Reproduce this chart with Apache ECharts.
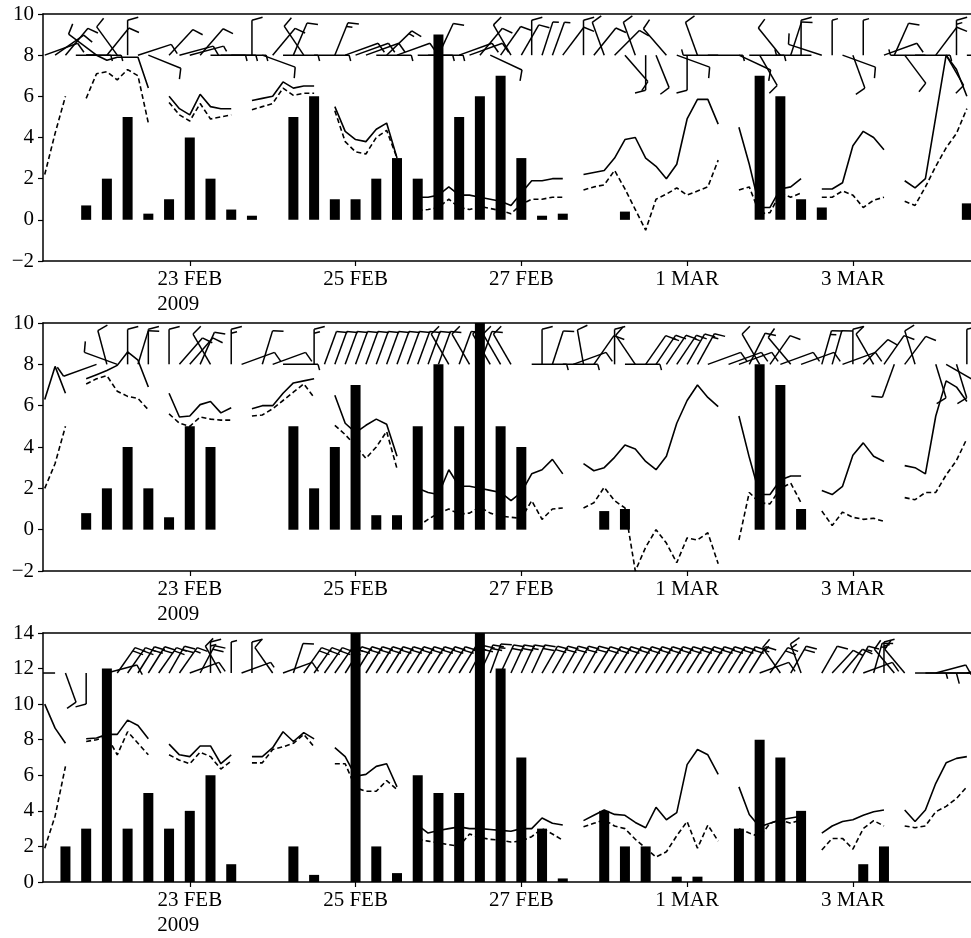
<!DOCTYPE html>
<html>
<head>
<meta charset="utf-8">
<script src="https://cdn.jsdelivr.net/npm/echarts@6/dist/echarts.min.js"></script>
<style>
  html, body { margin: 0; padding: 0; background: #fff; }
  #chart-container { width: 971px; height: 938px; }
</style>
</head>
<body>
<div id="chart-container"></div>
<script>
// time is in hours since 21 FEB 2009 00Z
const tickHours = [48, 96, 144, 192, 240];
const tickLabels = ["23 FEB", "25 FEB", "27 FEB", "1 MAR", "3 MAR"];
const yearLabel = "2009";

// 3-hourly times for the line series (06Z 21 FEB .. 09Z 4 MAR)
const lineHours = [];
for (let h = 6; h <= 273; h += 3) lineHours.push(h);

// panel 1
const p1BarHours = [18, 24, 30, 36, 42, 48, 54, 60, 66, 78, 84, 90, 96, 102, 108, 114, 120, 126, 132, 138, 144, 150, 156, 174, 213, 219, 225, 231, 273];
const p1Bars = [0.7, 2, 5, 0.3, 1, 4, 2, 0.5, 0.2, 5, 6, 1, 1, 2, 3, 2, 9, 5, 6, 7, 3, 0.2, 0.3, 0.4, 7, 6, 1, 0.6, 0.8];
const p1Solid = [
  null, null, null, null,
  8.0, 8.0, 7.75, 7.9, 7.9, 7.9, 6.4, null,
  6.0, 5.4, 5.1, 6.1, 5.5, 5.4, 5.4, null,
  5.8, 5.9, 6.0, 6.7, 6.4, 6.5, 6.5, null,
  5.5, 4.3, 3.9, 3.8, 4.4, 4.7, 3.0, null,
  1.1, 1.1, 1.2, 1.6, 1.2, 1.2, 1.1, 1.0, 0.9, 0.7, 1.3, 1.9, 1.9, 2.0, 2.0, null,
  2.2, 2.3, 2.4, 3.0, 3.9, 4.0, 3.0, 2.6, 2.0, 2.7, 4.9, 5.85, 5.85, 4.65, null,
  4.5, 2.7, 0.6, 0.6, 1.5, 1.6, 2.0, null,
  1.5, 1.5, 1.8, 3.6, 4.3, 4.0, 3.4, null,
  1.9, 1.55, 2.0, 5.0, 8.0, 7.3, 6.0
];
const p1Dashed = [
  2.2, 4.2, 6.0, null,
  5.9, 7.1, 7.2, 6.8, 7.3, 7.0, 4.7, null,
  5.7, 5.1, 4.8, 5.65, 4.9, 5.0, 5.1, null,
  5.35, 5.5, 5.65, 6.4, 6.05, 6.15, 6.15, null,
  5.3, 3.8, 3.3, 3.2, 4.0, 4.35, 3.0, null,
  0.45, 0.5, 0.6, 1.0, 0.6, 0.5, 0.65, 0.55, 0.45, 0.3, 0.75, 1.0, 1.0, 1.1, 1.1, null,
  1.45, 1.6, 1.7, 2.4, 1.5, 0.5, -0.5, 1.0, 1.25, 1.55, 1.2, 1.4, 1.6, 2.9, null,
  1.45, 1.6, 0.3, 0.35, 1.3, 1.1, 1.3, null,
  1.1, 1.1, 1.4, 1.2, 0.6, 0.95, 1.1, null,
  0.9, 0.7, 1.6, 2.6, 3.5, 4.2, 5.4
];
// wind: [hour, direction (deg, from), speed (m/s)]
const p1Wind = [
  [6, 70, 4], [9, 55, 4], [12, 40, 4], [15, 90, 2], [18, 90, 2], [21, 307, 4], [24, 39, 4], [27, 324, 4],
  [30, 0, 4], [33, 72, 4], [36, 112, 4], [42, 43, 4], [45, 75, 4], [48, 75, 2], [51, 41, 4], [54, 90, 2],
  [57, 90, 2], [60, 90, 2], [66, 0, 4], [69, 110, 4], [72, 40, 4], [75, 90, 2], [78, 23, 4], [81, 326, 4],
  [84, 90, 2], [90, 22, 6], [93, 70, 4], [96, 70, 4], [99, 70, 4], [102, 90, 2], [105, 46, 6], [108, 70, 4],
  [114, 90, 2], [117, 90, 2], [120, 25, 4], [126, 70, 4], [129, 70, 4], [132, 40, 4], [135, 115, 4],
  [138, 35, 4], [141, 330, 4], [144, 30, 4], [147, 0, 4], [150, 18, 2], [153, 20, 2], [156, 37, 4],
  [162, 0, 4], [165, 39, 4], [168, 340, 4], [171, 45, 4], [174, 139, 4], [177, 340, 4], [180, 180, 4],
  [183, 158, 4], [186, 319, 4], [189, 110, 4], [192, 180, 4], [195, 340, 4], [198, 90, 2], [201, 270, 2],
  [207, 115, 4], [210, 90, 2], [213, 150, 4], [219, 321, 4], [222, 18, 4], [225, 0, 4], [228, 270, 2],
  [231, 288, 4], [234, 0, 2], [237, 110, 4], [240, 160, 4], [243, 0, 2], [249, 70, 4], [252, 24, 4],
  [255, 143, 4], [258, 90, 2], [261, 270, 2], [264, 37, 4], [267, 150, 4], [270, 0, 6], [273, 90, 2]
];

// panel 2
const p2BarHours = [18, 24, 30, 36, 42, 48, 54, 78, 84, 90, 96, 102, 108, 114, 120, 126, 132, 138, 144, 168, 174, 213, 219, 225];
const p2Bars = [0.8, 2, 4, 2, 0.6, 5, 4, 5, 2, 4, 7, 0.7, 0.7, 5, 8, 5, 10, 5, 4, 0.9, 1, 8, 7, 1];
const p2Solid = [
  6.3, 7.9, 6.6, null,
  7.3, 7.5, 7.7, 7.95, 8.6, 8.2, 6.9, null,
  6.6, 5.45, 5.5, 6.05, 6.2, 5.65, 5.9, null,
  5.85, 6.0, 6.0, 6.6, 7.1, 7.2, 7.3, null,
  6.5, 5.15, 4.7, 5.05, 5.35, 5.1, 3.55, null,
  2.0, 1.8, 1.7, 2.9, 2.1, 2.1, 2.0, 1.9, 1.8, 1.4, 1.8, 2.7, 2.9, 3.4, 2.7, null,
  3.2, 2.85, 3.0, 3.5, 4.1, 3.9, 3.3, 2.9, 3.55, 5.15, 6.25, 7.0, 6.4, 5.95, null,
  5.5, 3.5, 1.7, 1.7, 2.4, 2.6, 2.6, null,
  1.9, 1.7, 2.1, 3.6, 4.2, 3.55, 3.3, null,
  3.1, 3.0, 2.7, 5.5, 7.2, 6.9, 6.2
];
const p2Dashed = [
  2.0, 3.2, 5.0, null,
  7.05, 7.3, 7.45, 6.7, 6.45, 6.35, 5.8, null,
  5.6, 5.15, 5.0, 5.45, 5.35, 5.3, 5.3, null,
  5.5, 5.55, 5.85, 6.25, 6.65, 7.05, 6.4, null,
  5.05, 4.6, 4.05, 3.45, 4.0, 4.75, 2.95, null,
  0.15, 0.5, 0.8, 1.0, 0.75, 0.8, 1.1, 0.8, 0.65, 0.6, 0.55, 1.4, 0.5, 1.0, 1.05, null,
  1.05, 1.3, 2.05, 1.4, 1.05, -2.0, -0.85, 0.0, -0.65, -1.6, -0.4, -0.5, -0.15, -1.65, null,
  -0.5, 1.8, 1.3, 1.25, 2.0, 2.25, 1.3, null,
  0.9, 0.2, 0.85, 0.6, 0.5, 0.55, 0.4, null,
  1.55, 1.45, 1.8, 1.8, 2.65, 3.35, 4.4
];
const p2Wind = [
  [21, 250, 4], [24, 345, 4], [27, 290, 4], [30, 0, 4], [33, 17, 4], [36, 0, 4], [42, 0, 4], [45, 41, 4],
  [48, 41, 4], [51, 24, 4], [54, 330, 4], [60, 0, 6], [63, 70, 4], [69, 17, 4], [72, 70, 4], [75, 90, 2],
  [84, 0, 6], [87, 20, 4], [90, 20, 4], [93, 20, 4], [96, 20, 4], [99, 20, 4], [102, 20, 4], [105, 20, 4],
  [108, 20, 4], [111, 20, 4], [114, 20, 4], [117, 20, 4], [120, 20, 4], [123, 330, 4], [126, 20, 4],
  [129, 330, 4], [132, 20, 4], [135, 330, 4], [138, 330, 4], [141, 330, 4], [147, 90, 2], [150, 0, 4],
  [153, 18, 4], [156, 90, 2], [159, 70, 4], [162, 350, 4], [165, 35, 4], [171, 0, 4], [174, 90, 2],
  [177, 326, 4], [180, 35, 4], [183, 34, 6], [186, 34, 4], [189, 34, 6], [192, 30, 4], [195, 29, 6],
  [198, 70, 4], [204, 70, 4], [207, 70, 4], [210, 27, 4], [213, 330, 4], [216, 35, 4], [219, 70, 4],
  [222, 320, 4], [225, 70, 4], [231, 16, 6], [234, 16, 4], [237, 70, 4], [240, 0, 4], [243, 45, 4],
  [246, 330, 4], [249, 35, 4], [252, 200, 4], [255, 37, 4], [258, 343, 4], [264, 163, 4], [267, 120, 4],
  [270, 163, 4], [273, 0, 4]
];

// panel 3
const p3BarHours = [12, 18, 24, 30, 36, 42, 48, 54, 60, 78, 84, 96, 102, 108, 114, 120, 126, 132, 138, 144, 150, 156, 168, 174, 180, 189, 195, 207, 213, 219, 225, 243, 249];
const p3Bars = [2, 3, 12, 3, 5, 3, 4, 6, 1, 2, 0.4, 14, 2, 0.5, 6, 5, 5, 14, 12, 7, 3, 0.2, 4, 2, 2, 0.3, 0.3, 3, 8, 7, 4, 1, 2];
const p3Solid = [
  10.0, 8.65, 7.8, null,
  8.05, 8.1, 8.3, 8.3, 9.1, 8.8, 8.05, null,
  7.75, 7.15, 7.05, 7.65, 7.65, 6.65, 7.15, null,
  7.05, 7.05, 7.55, 8.45, 7.9, 8.4, 8.05, null,
  7.55, 7.05, 5.95, 6.05, 6.5, 6.65, 5.35, null,
  3.2, 2.75, 2.9, 3.0, 3.1, 3.0, 3.0, 2.95, 2.9, 2.85, 3.0, 3.0, 3.6, 3.3, 3.2, null,
  3.45, 3.75, 4.05, 3.8, 3.75, 3.35, 3.05, 4.2, 3.5, 3.9, 6.6, 7.45, 7.15, 6.05, null,
  5.35, 3.8, 3.1, 3.3, 3.5, 3.6, 3.7, null,
  2.75, 3.15, 3.4, 3.5, 3.75, 3.95, 4.05, null,
  4.05, 3.4, 4.05, 5.55, 6.7, 6.95, 7.05
];
const p3Dashed = [
  1.9, 3.7, 6.5, null,
  7.9, 8.0, 8.2, 7.15, 8.45, 7.8, 7.15, null,
  7.15, 6.85, 6.65, 7.3, 7.05, 6.35, 6.8, null,
  6.7, 6.7, 7.45, 7.6, 7.8, 8.3, 7.6, null,
  6.65, 6.65, 5.3, 5.1, 5.1, 5.7, 5.2, null,
  2.4, 2.3, 2.2, 2.1, 2.0, 2.7, 2.5, 2.4, 2.35, 2.25, 2.3, 2.55, 3.0, 2.7, 2.35, null,
  3.1, 3.3, 3.5, 3.15, 3.0, 2.4, 1.9, 1.4, 1.7, 2.6, 3.4, 1.9, 3.2, 2.3, null,
  3.0, 2.75, 2.55, 3.3, 3.5, 3.3, 3.5, null,
  1.8, 2.45, 2.45, 1.85, 3.0, 3.45, 3.15, null,
  3.15, 3.05, 3.15, 3.95, 4.25, 4.7, 5.35
];
const p3Wind = [
  [9, 270, 2], [12, 160, 4], [18, 180, 4], [24, 75, 4], [27, 35, 8], [30, 35, 8], [33, 32, 8], [36, 32, 8],
  [39, 35, 8], [42, 30, 8], [45, 35, 6], [48, 70, 4], [51, 28, 8], [54, 0, 6], [57, 330, 4], [60, 0, 2],
  [63, 70, 2], [66, 0, 4], [72, 325, 4], [75, 70, 4], [78, 18, 4], [81, 35, 8], [84, 35, 8], [87, 35, 8],
  [90, 35, 8], [93, 32, 8], [96, 32, 8], [99, 32, 8], [102, 32, 8], [105, 32, 8], [108, 32, 8], [111, 32, 8],
  [114, 32, 8], [117, 32, 8], [120, 32, 8], [123, 32, 8], [126, 32, 8], [129, 28, 8], [132, 25, 8],
  [135, 20, 6], [138, 25, 8], [141, 25, 8], [144, 25, 6], [147, 25, 8], [150, 30, 8], [153, 30, 8],
  [156, 30, 8], [159, 30, 8], [162, 30, 8], [165, 32, 8], [168, 32, 8], [171, 32, 8], [174, 32, 8],
  [177, 32, 8], [180, 32, 8], [183, 32, 8], [186, 32, 8], [189, 32, 8], [192, 32, 8], [195, 32, 8],
  [198, 32, 8], [201, 32, 8], [204, 32, 8], [207, 32, 8], [210, 32, 6], [213, 70, 4], [216, 35, 8],
  [219, 325, 6], [222, 30, 8], [225, 340, 6], [231, 30, 4], [234, 43, 4], [237, 40, 4], [240, 30, 6],
  [243, 70, 4], [246, 16, 6], [249, 0, 6], [252, 320, 4], [255, 320, 4], [258, 90, 2], [261, 90, 4],
  [264, 75, 4], [267, 90, 2], [270, 90, 4], [273, 75, 4]
];

const FONT = "Liberation Serif";
const BLACK = "#000";
const X_MIN = 5.5, X_MAX = 274.2;

const panels = [
  { top: 14, height: 247, min: -2, max: 10, barbLevel: 8, staff: 35, bars: [p1BarHours, p1Bars], solid: p1Solid, dashed: p1Dashed, wind: p1Wind },
  { top: 323, height: 248, min: -2, max: 10, barbLevel: 8, staff: 35, bars: [p2BarHours, p2Bars], solid: p2Solid, dashed: p2Dashed, wind: p2Wind },
  { top: 633, height: 249, min: 0, max: 14, barbLevel: 11.75, staff: 31, bars: [p3BarHours, p3Bars], solid: p3Solid, dashed: p3Dashed, wind: p3Wind }
];

function barbRenderer(level, staffLen) {
  return function (params, api) {
    const base = api.coord([api.value(0), level]);
    const th = (90 - api.value(1)) * Math.PI / 180;
    const ux = Math.cos(th), uy = -Math.sin(th);
    const tip = [base[0] + ux * staffLen, base[1] + uy * staffLen];
    const fa = th - 75 * Math.PI / 180;
    const fx = Math.cos(fa), fy = -Math.sin(fa);
    const style = { stroke: BLACK, lineWidth: 1.5 };
    const kids = [{ type: "line", shape: { x1: base[0], y1: base[1], x2: tip[0], y2: tip[1] }, style: style }];
    let spd = api.value(2);
    let pos = 0;
    const feather = function (len) {
      const sx = tip[0] - ux * pos, sy = tip[1] - uy * pos;
      kids.push({ type: "line", shape: { x1: sx, y1: sy, x2: sx + fx * len, y2: sy + fy * len }, style: style });
      pos += 4;
    };
    while (spd >= 4) { feather(11); spd -= 4; }
    if (spd >= 2) feather(6);
    return { type: "group", children: kids };
  };
}

const grid = [], xAxis = [], yAxis = [], series = [], topAxes = [];
panels.forEach(function (p, i) {
  grid.push({ left: 43, right: 0, top: p.top, height: p.height });
  xAxis.push({
    gridIndex: i, type: "value", min: X_MIN, max: X_MAX,
    axisLine: { onZero: false, lineStyle: { color: BLACK, width: 1.5 } },
    splitLine: { show: false },
    axisTick: { customValues: tickHours, length: 5, lineStyle: { color: BLACK, width: 1.2 } },
    axisLabel: {
      customValues: tickHours, margin: 6, color: BLACK, fontFamily: FONT, fontSize: 21, lineHeight: 25,
      formatter: function (v) {
        const k = tickHours.indexOf(v);
        if (k === 0) return "{a|" + tickLabels[k] + "}\n{b|" + yearLabel + "}";
        return "{a|" + tickLabels[k] + "}";
      },
      rich: {
        a: { fontFamily: FONT, fontSize: 21, lineHeight: 25, color: BLACK },
        b: { fontFamily: FONT, fontSize: 21, lineHeight: 25, color: BLACK, width: 65, align: "left" }
      }
    }
  });
  // top frame line
  topAxes.push({
    gridIndex: i, type: "value", position: "top", min: X_MIN, max: X_MAX,
    axisLine: { show: true, onZero: false, lineStyle: { color: BLACK, width: 1.5 } },
    axisTick: { show: false }, axisLabel: { show: false }, splitLine: { show: false }
  });
  yAxis.push({
    gridIndex: i, type: "value", min: p.min, max: p.max, interval: 2,
    axisLine: { show: true, lineStyle: { color: BLACK, width: 1.5 } },
    axisTick: { show: true, length: 5, lineStyle: { color: BLACK, width: 1.2 } },
    splitLine: { show: false },
    axisLabel: {
      margin: 9, color: BLACK, fontFamily: FONT, fontSize: 21,
      formatter: function (v) { return String(v).replace("-", "\u2212"); }
    }
  });
  series.push({
    type: "bar", xAxisIndex: i, yAxisIndex: i, barWidth: 10, silent: true,
    itemStyle: { color: BLACK },
    data: p.bars[0].map(function (h, k) { return [h, p.bars[1][k]]; })
  });
  series.push({
    type: "line", xAxisIndex: i, yAxisIndex: i, symbol: "none", silent: true, connectNulls: false,
    lineStyle: { color: BLACK, width: 1.6 },
    data: lineHours.map(function (h, k) { return [h, p.solid[k]]; })
  });
  series.push({
    type: "line", xAxisIndex: i, yAxisIndex: i, symbol: "none", silent: true, connectNulls: false,
    lineStyle: { color: BLACK, width: 1.6, type: [5, 3] },
    data: lineHours.map(function (h, k) { return [h, p.dashed[k]]; })
  });
  series.push({
    type: "custom", xAxisIndex: i, yAxisIndex: i, silent: true, clip: true,
    renderItem: barbRenderer(p.barbLevel, p.staff),
    data: p.wind
  });
});

const dom = document.getElementById("chart-container");
const myChart = echarts.init(dom, null, { renderer: "canvas" });
myChart.setOption({
  animation: false,
  backgroundColor: "#fff",
  grid: grid,
  xAxis: xAxis.concat(topAxes),
  yAxis: yAxis,
  series: series
});
</script>
</body>
</html>
